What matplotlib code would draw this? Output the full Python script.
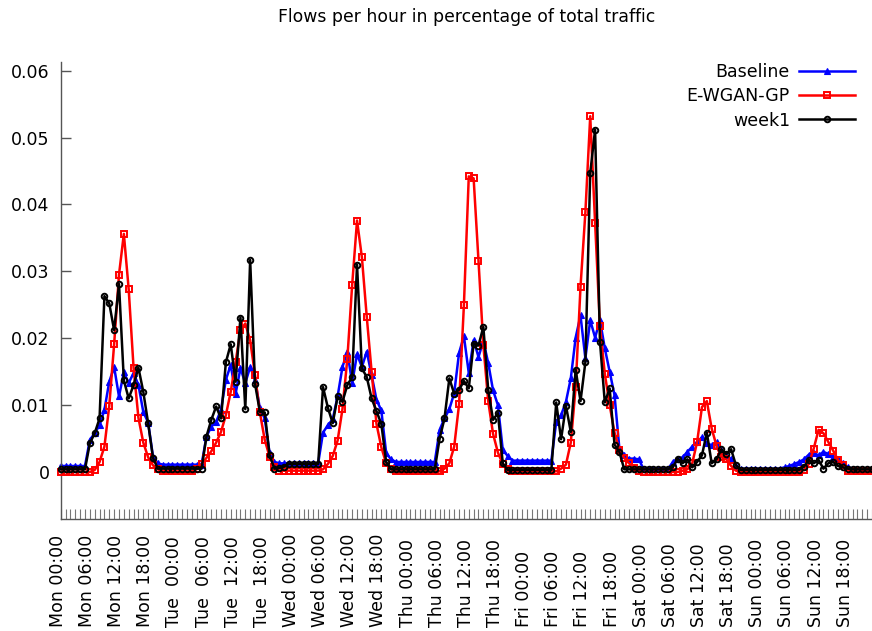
import numpy as np
import matplotlib
matplotlib.use('Agg')
import matplotlib.pyplot as plt
from matplotlib.transforms import blended_transform_factory

plt.rcParams['font.family'] = ['DejaVu Sans']

# hourly values over one week (Mon 00:00 .. Sun 23:00), one day per line
baseline = [
    0.0009, 0.0009, 0.0009, 0.0009, 0.0009, 0.0009, 0.0048, 0.0058, 0.0070, 0.0093, 0.0135, 0.0157,
    0.0113, 0.0149, 0.0133, 0.0148, 0.0130, 0.0090, 0.0074, 0.0023, 0.0013, 0.0011, 0.0011, 0.0011,
    0.0011, 0.0011, 0.0011, 0.0011, 0.0011, 0.0011, 0.0053, 0.0068, 0.0075, 0.0093, 0.0138, 0.0160,
    0.0117, 0.0155, 0.0133, 0.0157, 0.0138, 0.0095, 0.0080, 0.0028, 0.0015, 0.0013, 0.0013, 0.0013,
    0.0013, 0.0013, 0.0013, 0.0013, 0.0013, 0.0013, 0.0059, 0.0070, 0.0079, 0.0113, 0.0157, 0.0180,
    0.0133, 0.0176, 0.0157, 0.0180, 0.0145, 0.0108, 0.0092, 0.0028, 0.0019, 0.0015, 0.0015, 0.0015,
    0.0015, 0.0015, 0.0015, 0.0015, 0.0015, 0.0015, 0.0063, 0.0080, 0.0094, 0.0118, 0.0178, 0.0203,
    0.0148, 0.0197, 0.0172, 0.0196, 0.0163, 0.0122, 0.0100, 0.0033, 0.0024, 0.0017, 0.0017, 0.0017,
    0.0017, 0.0017, 0.0017, 0.0017, 0.0017, 0.0017, 0.0075, 0.0085, 0.0105, 0.0140, 0.0201, 0.0234,
    0.0170, 0.0227, 0.0201, 0.0227, 0.0185, 0.0150, 0.0115, 0.0035, 0.0025, 0.0020, 0.0020, 0.0019,
    0.0004, 0.0004, 0.0004, 0.0004, 0.0004, 0.0004, 0.0015, 0.0020, 0.0022, 0.0030, 0.0038, 0.0045,
    0.0052, 0.0043, 0.0040, 0.0045, 0.0033, 0.0025, 0.0019, 0.0009, 0.0005, 0.0005, 0.0005, 0.0005,
    0.0005, 0.0005, 0.0005, 0.0005, 0.0005, 0.0007, 0.0009, 0.0012, 0.0015, 0.0019, 0.0026, 0.0028,
    0.0025, 0.0030, 0.0027, 0.0023, 0.0019, 0.0014, 0.0007, 0.0005, 0.0005, 0.0005, 0.0005, 0.0005,
]

ewgan_gp = [
    0.0000, 0.0000, 0.0000, 0.0000, 0.0000, 0.0000, 0.0000, 0.0003, 0.0015, 0.0038, 0.0099, 0.0191,
    0.0295, 0.0356, 0.0273, 0.0156, 0.0081, 0.0044, 0.0022, 0.0010, 0.0004, 0.0001, 0.0001, 0.0001,
    0.0001, 0.0001, 0.0001, 0.0001, 0.0004, 0.0012, 0.0021, 0.0031, 0.0044, 0.0060, 0.0085, 0.0120,
    0.0164, 0.0212, 0.0222, 0.0197, 0.0145, 0.0089, 0.0048, 0.0023, 0.0008, 0.0002, 0.0002, 0.0002,
    0.0002, 0.0002, 0.0002, 0.0002, 0.0002, 0.0002, 0.0004, 0.0012, 0.0024, 0.0047, 0.0094, 0.0169,
    0.0280, 0.0376, 0.0321, 0.0232, 0.0150, 0.0072, 0.0037, 0.0013, 0.0004, 0.0001, 0.0001, 0.0001,
    0.0001, 0.0001, 0.0001, 0.0001, 0.0001, 0.0001, 0.0001, 0.0005, 0.0013, 0.0038, 0.0101, 0.0250,
    0.0442, 0.0439, 0.0316, 0.0190, 0.0106, 0.0057, 0.0029, 0.0012, 0.0004, 0.0001, 0.0001, 0.0001,
    0.0001, 0.0001, 0.0001, 0.0001, 0.0001, 0.0001, 0.0001, 0.0005, 0.0011, 0.0044, 0.0127, 0.0277,
    0.0388, 0.0532, 0.0373, 0.0218, 0.0147, 0.0100, 0.0059, 0.0033, 0.0021, 0.0013, 0.0006, 0.0002,
    0.0000, 0.0000, 0.0000, 0.0000, 0.0000, 0.0000, 0.0000, 0.0000, 0.0002, 0.0004, 0.0013, 0.0045,
    0.0097, 0.0106, 0.0065, 0.0039, 0.0022, 0.0019, 0.0009, 0.0002, 0.0000, 0.0000, 0.0000, 0.0000,
    0.0000, 0.0000, 0.0000, 0.0000, 0.0000, 0.0000, 0.0000, 0.0000, 0.0000, 0.0003, 0.0012, 0.0035,
    0.0063, 0.0058, 0.0045, 0.0032, 0.0018, 0.0010, 0.0002, 0.0001, 0.0001, 0.0001, 0.0001, 0.0001,
]

week1 = [
    0.0004, 0.0004, 0.0004, 0.0004, 0.0004, 0.0004, 0.0043, 0.0058, 0.0080, 0.0263, 0.0252, 0.0212,
    0.0281, 0.0137, 0.0110, 0.0130, 0.0156, 0.0120, 0.0073, 0.0021, 0.0005, 0.0005, 0.0005, 0.0005,
    0.0005, 0.0005, 0.0005, 0.0005, 0.0005, 0.0005, 0.0053, 0.0078, 0.0098, 0.0080, 0.0164, 0.0191,
    0.0135, 0.0231, 0.0094, 0.0317, 0.0132, 0.0090, 0.0089, 0.0025, 0.0005, 0.0006, 0.0008, 0.0012,
    0.0012, 0.0012, 0.0012, 0.0012, 0.0012, 0.0012, 0.0127, 0.0096, 0.0073, 0.0113, 0.0105, 0.0130,
    0.0142, 0.0310, 0.0155, 0.0142, 0.0110, 0.0091, 0.0072, 0.0015, 0.0004, 0.0004, 0.0004, 0.0004,
    0.0004, 0.0004, 0.0004, 0.0004, 0.0004, 0.0004, 0.0050, 0.0080, 0.0140, 0.0117, 0.0123, 0.0136,
    0.0125, 0.0192, 0.0189, 0.0217, 0.0123, 0.0078, 0.0088, 0.0013, 0.0003, 0.0003, 0.0003, 0.0003,
    0.0003, 0.0003, 0.0003, 0.0003, 0.0003, 0.0003, 0.0104, 0.0049, 0.0099, 0.0060, 0.0153, 0.0106,
    0.0164, 0.0447, 0.0512, 0.0195, 0.0104, 0.0125, 0.0041, 0.0030, 0.0004, 0.0004, 0.0004, 0.0004,
    0.0004, 0.0004, 0.0004, 0.0004, 0.0004, 0.0004, 0.0007, 0.0020, 0.0013, 0.0019, 0.0007, 0.0015,
    0.0025, 0.0059, 0.0013, 0.0019, 0.0034, 0.0027, 0.0034, 0.0010, 0.0003, 0.0003, 0.0003, 0.0003,
    0.0003, 0.0003, 0.0003, 0.0003, 0.0003, 0.0003, 0.0003, 0.0003, 0.0003, 0.0008, 0.0018, 0.0013,
    0.0018, 0.0005, 0.0013, 0.0015, 0.0009, 0.0007, 0.0005, 0.0004, 0.0004, 0.0004, 0.0004, 0.0004,
]

hours = np.arange(len(week1))

label_hours = [0, 6, 12, 18, 24, 30, 36, 42, 48, 54, 60, 66, 72, 78,
               84, 90, 96, 102, 108, 114, 120, 126, 132, 138, 144, 150, 156, 162]
tick_labels = ['Mon 00:00', 'Mon 06:00', 'Mon 12:00', 'Mon 18:00',
               'Tue  00:00', 'Tue  06:00', 'Tue  12:00', 'Tue  18:00',
               'Wed 00:00', 'Wed 06:00', 'Wed 12:00', 'Wed 18:00',
               'Thu 00:00', 'Thu 06:00', 'Thu 12:00', 'Thu 18:00',
               'Fri 00:00', 'Fri 06:00', 'Fri 12:00', 'Fri 18:00',
               'Sat 00:00', 'Sat 06:00', 'Sat 12:00', 'Sat 18:00',
               'Sun 00:00', 'Sun 06:00', 'Sun 12:00', 'Sun 18:00']
y_ticks = [0, 0.01, 0.02, 0.03, 0.04, 0.05, 0.06]
y_labels = ['0', '0.01', '0.02', '0.03', '0.04', '0.05', '0.06']

fig = plt.figure(figsize=(8.72, 6.31), dpi=100)
ax = fig.add_axes([0.0696, 0.178, 0.9304, 0.7233])

ax.plot(hours, baseline, color='#0000ff', lw=1.8, marker='^', ms=4.8,
        mew=0.8, label='Baseline', clip_on=False, zorder=2)
ax.plot(hours, ewgan_gp, color='#ff0000', lw=1.8, marker='s', ms=3.8,
        mfc='none', mew=1.4, label='E-WGAN-GP', clip_on=False, zorder=3)
ax.plot(hours, week1, color='#000000', lw=1.8, marker='o', ms=4.0,
        mfc='none', mew=1.4, label='week1', clip_on=False, zorder=4)

ax.set_xlim(0, 166.1)
ax.set_ylim(-0.00698, 0.06126)

ax.set_yticks(y_ticks)
ax.set_yticklabels(y_labels, fontsize=12.5)
ax.set_xticks(hours)
ax.set_xticklabels([])
ax.tick_params(axis='y', direction='in', length=7.5, width=1, color='#555555', pad=8)
ax.tick_params(axis='x', direction='in', length=7, width=0.8, color='#777777')

for side in ['top', 'right']:
    ax.spines[side].set_visible(False)
for side in ['left', 'bottom']:
    ax.spines[side].set_color('#555555')
    ax.spines[side].set_linewidth(1)

trans = blended_transform_factory(ax.transData, fig.transFigure)
for h, lab in zip(label_hours, tick_labels):
    ax.text(h - 0.6, 4 / 631, lab, transform=trans, rotation=90,
            ha='center', va='bottom', fontsize=12.5)

fig.text(467 / 872, 1 - 17 / 631, 'Flows per hour in percentage of total traffic',
         ha='center', va='center', fontsize=12.4)

ax.legend(loc='upper right', bbox_to_anchor=(855 / 872, 1 - 63 / 631),
          bbox_transform=fig.transFigure, frameon=False, markerfirst=False,
          fontsize=12.5, handlelength=3.2, handletextpad=0.55,
          labelspacing=0.36, borderpad=0, borderaxespad=0)

fig.savefig('out.png', dpi=100)
